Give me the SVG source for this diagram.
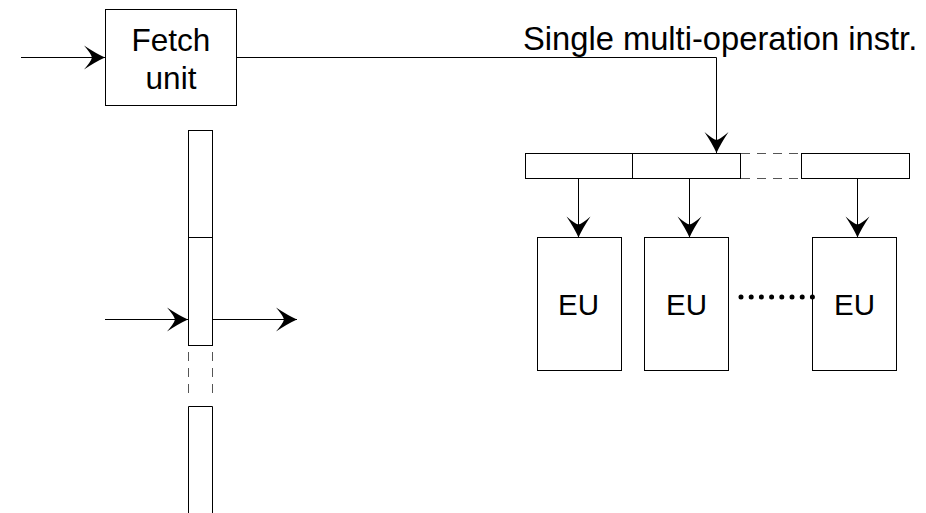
<svg xmlns="http://www.w3.org/2000/svg" width="926" height="513" viewBox="0 0 926 513">
  <style>
    .box { fill: #fff; stroke: #000; stroke-width: 1; }
    .edge { fill: none; stroke: #000; stroke-width: 1; }
    .dash { fill: none; stroke: #555; stroke-width: 1; stroke-dasharray: 9 7; }
    .lbl { font-family: "Liberation Sans", Arial, sans-serif; fill: #000; }
    .big { font-size: 31.5px; }
    .head { font-size: 32.7px; }
    .eu { font-size: 29.5px; text-anchor: middle; }
  </style>
  <defs>
    <marker id="arrow" markerUnits="userSpaceOnUse" markerWidth="26" markerHeight="26" viewBox="-23 -13 26 26" refX="0" refY="0" orient="auto">
      <path d="M0,0 Q-9,-4 -21,-12 Q-14,-4 -13,0 Q-14,4 -21,12 Q-9,4 0,0 Z" fill="#000"/>
    </marker>
  </defs>

  <rect width="926" height="513" fill="#fff"/>

  <!-- fetch unit -->
  <g id="fetch">
    <rect class="box" x="105.5" y="9.5" width="131" height="96"/>
    <text class="lbl big" x="171" y="51" text-anchor="middle">Fetch</text>
    <text class="lbl big" x="171" y="89" text-anchor="middle">unit</text>
  </g>

  <!-- instruction label -->
  <g id="instr-label">
    <text class="lbl head" x="523" y="50">Single multi-operation instr.</text>
  </g>

  <!-- pipeline column -->
  <g id="pipeline">
    <rect class="box" x="188.5" y="130.5" width="24" height="107"/>
    <rect class="box" x="188.5" y="237.5" width="24" height="108"/>
    <line class="dash" x1="188.5" y1="352" x2="188.5" y2="400"/>
    <line class="dash" x1="212.5" y1="352" x2="212.5" y2="400"/>
    <path class="edge" d="M188.5,513 V406.5 H212.5 V513"/>
  </g>

  <!-- instruction word fields -->
  <g id="instr-word">
    <rect class="box" x="525.5" y="153.5" width="107" height="25"/>
    <rect class="box" x="632.5" y="153.5" width="108" height="25"/>
    <line class="dash" x1="741" y1="153.5" x2="801" y2="153.5"/>
    <line class="dash" x1="741" y1="178.5" x2="801" y2="178.5"/>
    <rect class="box" x="801.5" y="153.5" width="108" height="25"/>
  </g>

  <!-- execution units -->
  <g id="eu1">
    <rect class="box" x="537.5" y="237.5" width="84" height="133"/>
    <text class="lbl eu" x="578.5" y="315">EU</text>
  </g>
  <g id="eu2">
    <rect class="box" x="644.5" y="237.5" width="84" height="133"/>
    <text class="lbl eu" x="686.5" y="315">EU</text>
  </g>
  <g id="eu3">
    <rect class="box" x="812.5" y="237.5" width="84" height="133"/>
    <text class="lbl eu" x="854.5" y="315">EU</text>
  </g>

  <!-- connectors -->
  <g id="connectors">
    <line class="edge" x1="21" y1="57.5" x2="105" y2="57.5" marker-end="url(#arrow)"/>
    <path class="edge" d="M237,57.5 H716.5 V153" marker-end="url(#arrow)"/>
    <line class="edge" x1="105" y1="319.5" x2="188" y2="319.5" marker-end="url(#arrow)"/>
    <line class="edge" x1="213" y1="319.5" x2="297" y2="319.5" marker-end="url(#arrow)"/>
    <line class="edge" x1="578.5" y1="179" x2="578.5" y2="237.5" marker-end="url(#arrow)"/>
    <line class="edge" x1="689.5" y1="179" x2="689.5" y2="237.5" marker-end="url(#arrow)"/>
    <line class="edge" x1="857.5" y1="179" x2="857.5" y2="237.5" marker-end="url(#arrow)"/>
    <line x1="741" y1="297" x2="813" y2="297" stroke="#000" stroke-width="5" stroke-linecap="round" stroke-dasharray="0 10.2"/>
  </g>
</svg>
